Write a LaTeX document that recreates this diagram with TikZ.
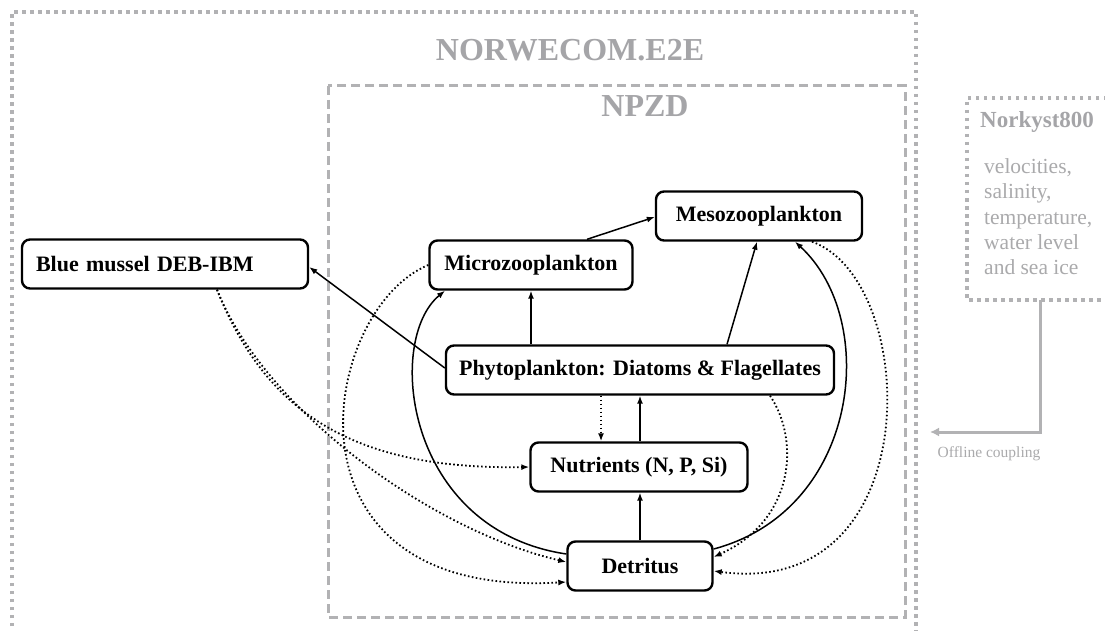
\documentclass[tikz,border=0pt]{standalone}
\usepackage{fontspec}
\setmainfont{Liberation Serif}
\usetikzlibrary{arrows.meta}
\definecolor{framegray}{RGB}{178,178,180}
\definecolor{titlegray}{RGB}{165,165,168}
\definecolor{textgray}{RGB}{170,170,172}
\tikzset{
  box/.style={draw=black, line width=2.4pt, rounded corners=8pt, inner sep=0pt,
    font=\fontsize{22}{25}\selectfont\bfseries, align=center},
  flow/.style={line width=1.5pt, -{Latex[length=8pt,width=6pt]}},
  dflow/.style={line width=1.8pt, dash pattern=on 1.6pt off 2.4pt, -{Latex[length=8pt,width=6pt]}},
  outerframe/.style={draw=framegray, line width=3.5pt, dash pattern=on 3.5pt off 4.5pt},
  npzdframe/.style={draw=framegray, line width=3pt, dash pattern=on 9pt off 5pt},
  gtitle/.style={text=titlegray, font=\fontsize{32}{36}\selectfont\bfseries},
  nkline/.style={text=textgray, font=\fontsize{21.5}{25}\selectfont, anchor=base west, inner sep=0pt},
}
\begin{document}
\begin{tikzpicture}[x=1pt,y=-1pt]
\clip (0,0) rectangle (1105,631);
\fill[white] (0,0) rectangle (1105,631);
% frames
\draw[outerframe] (12,650) -- (12,12) -- (916,12) -- (916,650);
\draw[npzdframe] (328,86) rectangle (905,617);
\draw[outerframe] (1115,98) -- (967,98) -- (967,300) -- (1115,300);
\node[gtitle] (norwecom) at (570,50) {NORWECOM.E2E};
\node[gtitle] (npzd) at (645,106) {NPZD};
\node[text=titlegray, font=\fontsize{23}{27}\selectfont\bfseries, anchor=base west, inner sep=0pt] (nk) at (980,128) {Norkyst800};
\node[nkline] (l1) at (984,174) {velocities,};
\node[nkline] (l2) at (984,199) {salinity,};
\node[nkline] (l3) at (984,224) {temperature,};
\node[nkline] (l4) at (984,249) {water level};
\node[nkline] (l5) at (984,274) {and sea ice};
\coordinate (nkout) at (1040,300);
\coordinate (nkend) at (930,432);
\draw[draw=framegray, line width=3pt, -{Latex[length=9pt,width=9pt]}] (nkout) |- (nkend);
\node[text=textgray, font=\fontsize{15.5}{18}\selectfont, inner sep=0pt] (offline) at (989,454) {Offline coupling};
% nodes
\node[box, minimum width=286pt, minimum height=49pt, text width=258pt, inner xsep=14pt, align=left] (bm) at (165,264) {Blue mussel DEB-IBM};
\node[box, minimum width=203pt, minimum height=49pt] (micro) at (531,265) {Microzooplankton};
\node[box, minimum width=206pt, minimum height=49pt] (meso) at (759,216) {Mesozooplankton};
\node[box, minimum width=388pt, minimum height=49pt] (phyto) at (640,370) {Phytoplankton: Diatoms \& Flagellates};
\node[box, minimum width=217pt, minimum height=49pt] (nut) at (639,467) {Nutrients (N, P, Si)};
\node[box, minimum width=145pt, minimum height=49pt] (det) at (640,566) {Detritus};
% solid flows
\draw[flow] (phyto.west) ++(0,-2) -- (bm.east |- 0,267);
\draw[flow] (phyto.north -| 531,0) -- (micro.south -| 531,0);
\draw[flow] (micro.north -| 587,0) -- (meso.west |- 0,217);
\draw[flow] (phyto.north -| 727,0) -- (meso.south -| 757,0);
\draw[flow] (nut.north -| 640,0) -- (phyto.south -| 640,0);
\draw[flow] (det.north -| 640,0) -- (nut.south -| 640,0);
\draw[flow] (det.west |- 0,554) .. controls (405,530) and (385,340) .. (micro.south -| 445,0);
\draw[flow] (det.east |- 0,549) .. controls (860,510) and (880,320) .. (meso.south -| 795,0);
% dotted flows
\draw[dflow] (micro.west) .. controls (320,310) and (270,600) .. (det.west |- 0,582);
\draw[dflow] (bm.south -| 217,0) .. controls (265,410) and (350,470) .. (nut.west);
\draw[dflow] (bm.south -| 217,0) .. controls (265,410) and (430,530) .. (det.west |- 0,562);
\draw[dflow] (phyto.south -| 601,0) -- (nut.north -| 601,0);
\draw[dflow] (phyto.south -| 770,0) .. controls (800,440) and (795,520) .. (det.east |- 0,557);
\draw[dflow] (meso.south -| 812,0) .. controls (920,280) and (930,600) .. (det.east |- 0,571);
\end{tikzpicture}
\end{document}
